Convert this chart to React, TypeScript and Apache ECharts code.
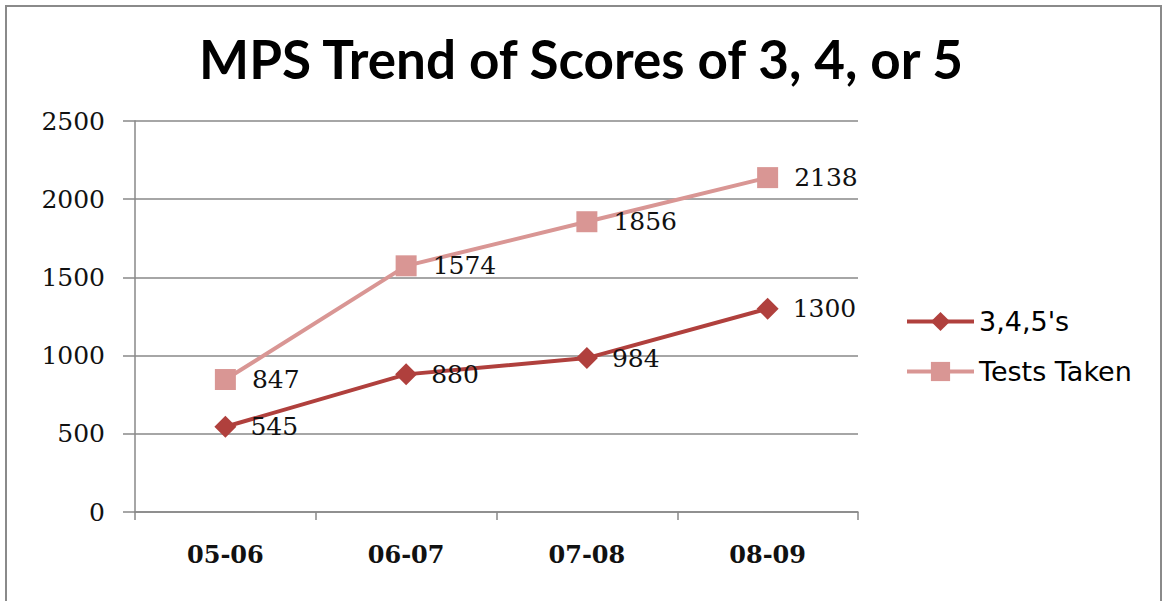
import React, { useEffect, useRef } from "react";
import * as echarts from "echarts";

const categories = ["05-06", "06-07", "07-08", "08-09"];
const scores345 = [545, 880, 984, 1300];
const testsTaken = [847, 1574, 1856, 2138];
const seriesNames = ["3,4,5's", "Tests Taken"];
const titleText = "MPS Trend of Scores of 3, 4, or 5";

export default function App() {
  const ref = useRef<HTMLDivElement>(null);
  useEffect(() => {
    if (!ref.current) return;
    const chart = echarts.init(ref.current, undefined, { renderer: "svg" });
    const numFont = "DejaVu Serif";
    chart.setOption({
      animation: false,
      backgroundColor: "transparent",
      title: {
        text: titleText,
        left: "center",
        top: 27,
        textStyle: { fontFamily: "Lato", fontWeight: "bold", fontSize: 53, color: "#000" },
      },
      grid: { left: 135, right: 304, top: 121, bottom: 89, containLabel: false },
      legend: {
        orient: "vertical",
        left: 905,
        top: 308,
        padding: 0,
        itemWidth: 67,
        itemHeight: 24,
        itemGap: 23,
        lineStyle: { width: 4 },
        textStyle: { fontFamily: "DejaVu Sans", fontSize: 27, color: "#000", padding: [0, 0, 0, 0] },
        data: [seriesNames[0], seriesNames[1]],
      },
      xAxis: {
        type: "category",
        data: categories,
        boundaryGap: true,
        axisLine: { lineStyle: { color: "#888", width: 1.5 } },
        axisTick: { show: true, length: 8, lineStyle: { color: "#888", width: 1.5 } },
        axisLabel: { margin: 30, fontFamily: numFont, fontWeight: "bold", fontSize: 24, color: "#111" },
      },
      yAxis: {
        type: "value",
        min: 0,
        max: 2500,
        interval: 500,
        axisLine: { show: true, lineStyle: { color: "#888", width: 1.5 } },
        axisTick: { show: true, length: 12, lineStyle: { color: "#888", width: 1.5 } },
        splitLine: { lineStyle: { color: "#888", width: 1.5 } },
        axisLabel: {
          margin: 30,
          fontFamily: numFont,
          fontSize: 25,
          color: "#111",
          formatter: (v: number) => String(v),
        },
      },
      series: [
        {
          name: seriesNames[0],
          type: "line",
          data: scores345,
          symbol: "diamond",
          symbolSize: 22,
          lineStyle: { color: "#B0403D", width: 4 },
          itemStyle: { color: "#B0403D" },
          label: {
            show: true,
            position: "right",
            distance: 14,
            fontFamily: numFont,
            fontSize: 25,
            color: "#111",
          },
        },
        {
          name: seriesNames[1],
          type: "line",
          data: testsTaken,
          symbol: "rect",
          symbolSize: 21,
          lineStyle: { color: "#D99694", width: 4 },
          itemStyle: { color: "#D99694" },
          label: {
            show: true,
            position: "right",
            distance: 16,
            fontFamily: numFont,
            fontSize: 25,
            color: "#111",
          },
        },
      ],
    });
    return () => chart.dispose();
  }, []);
  return (
    <div style={{ position: "fixed", left: 0, top: 0, width: 1162, height: 601, background: "#fff" }}>
      <div
        style={{
          position: "absolute",
          left: 5,
          top: 5,
          width: 1157,
          height: 620,
          border: "2px solid #8a8a8a",
          boxSizing: "border-box",
        }}
      />
      <div ref={ref} style={{ position: "absolute", left: 0, top: 0, width: 1162, height: 601 }} />
    </div>
  );
}
